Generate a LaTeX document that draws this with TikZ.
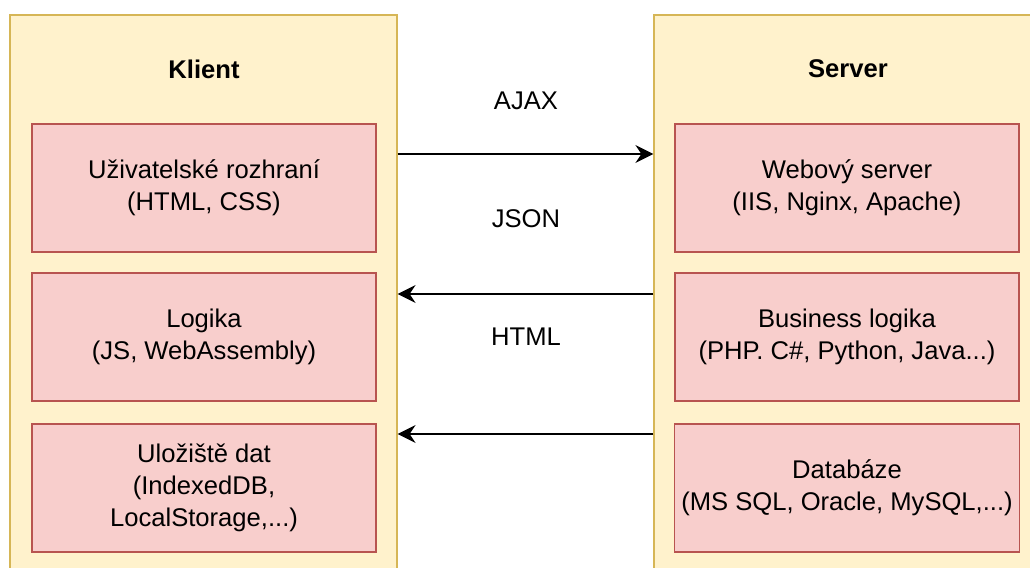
\documentclass[tikz,border=0pt]{standalone}
\usepackage{fontspec}
\setmainfont{Liberation Sans}
\usetikzlibrary{arrows.meta}
\definecolor{kontfill}{HTML}{FFF2CC}
\definecolor{kontline}{HTML}{D6B656}
\definecolor{boxfill}{HTML}{F8CECC}
\definecolor{boxline}{HTML}{B85450}

\tikzset{
  kontejner/.style={draw=kontline, fill=kontfill, line width=0.6pt, minimum width=193.5pt, minimum height=292.5pt, inner sep=0pt},
  vrstva/.style={draw=boxline, fill=boxfill, line width=0.8pt, minimum width=172pt, minimum height=64pt, align=center, font=\fontsize{12.8}{16}\selectfont},
  nadpis/.style={font=\fontsize{12.8}{16}\selectfont\bfseries},
  popis/.style={font=\fontsize{12.8}{16}\selectfont},
  sipka/.style={-{Stealth[length=9pt,width=9pt,inset=3pt]}, line width=0.8pt}
}

\begin{document}
\begin{tikzpicture}[x=0.5pt, y=-0.5pt]
  \clip (0,0) rectangle (1030,568);
  \fill[white] (0,0) rectangle (1030,568);

  % kontejnery
  \node[kontejner] (klient) at (203.5,307.5) {};
  \node[kontejner] (server) at (847.5,307.5) {};
  \node[nadpis] (klientnadpis) at (204,69) {Klient};
  \node[nadpis] (servernadpis) at (848,69) {Server};

  % vrstvy klienta
  \node[vrstva] (ui) at (204,188) {Uživatelské rozhraní\\(HTML, CSS)};
  \node[vrstva] (logika) at (204,337) {Logika\\(JS, WebAssembly)};
  \node[vrstva] (uloziste) at (204,488) {Uložiště dat\\(IndexedDB,\\LocalStorage,...)};

  % vrstvy serveru
  \node[vrstva] (web) at (847,188) {Webový server\\(IIS, Nginx, Apache)};
  \node[vrstva] (business) at (847,337) {Business logika\\(PHP. C\#, Python, Java...)};
  \node[vrstva] (db) at (847,488) {Databáze\\(MS SQL, Oracle, MySQL,...)};

  % komunikace
  \coordinate (a1) at (526,154);
  \coordinate (a2) at (526,294);
  \coordinate (a3) at (526,434);
  \draw[sipka] (klient.east |- a1) -- (server.west |- a1);
  \draw[sipka] (server.west |- a2) -- (klient.east |- a2);
  \draw[sipka] (server.west |- a3) -- (klient.east |- a3);
  \node[popis] (ajax) at (526,101) {AJAX};
  \node[popis] (json) at (526,219) {JSON};
  \node[popis] (html) at (526,337) {HTML};
\end{tikzpicture}
\end{document}
